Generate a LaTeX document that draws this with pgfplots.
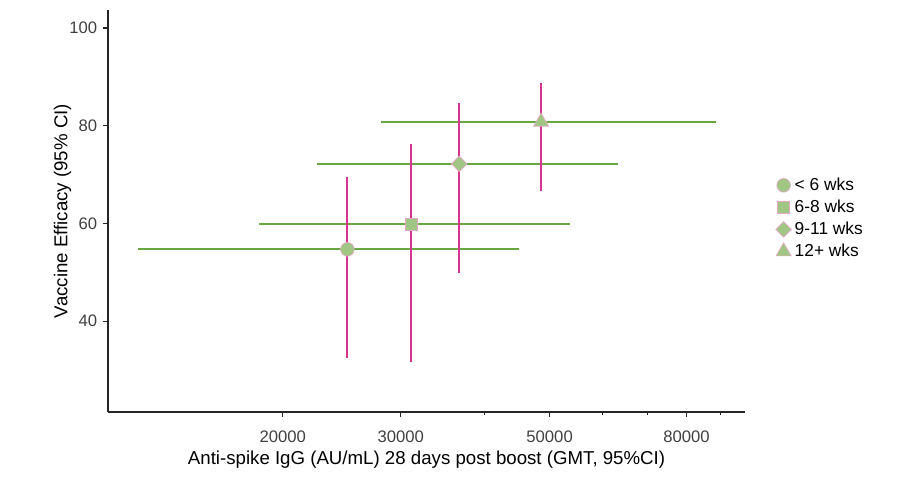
\documentclass[border=0pt]{standalone}
\usepackage{fontspec}
\setmainfont{Liberation Sans}
\usepackage{pgfplots}
\pgfplotsset{compat=1.18}

\definecolor{ciGreen}{RGB}{104,168,66}
\definecolor{ciPink}{RGB}{214,52,142}
\definecolor{ptFill}{RGB}{160,198,132}
\definecolor{ptEdge}{RGB}{232,168,204}

\begin{document}
\begin{tikzpicture}
% 1px = 0.6pt, page 920x477 px
\path[use as bounding box] (0pt,0pt) rectangle (552pt,286.2pt);
\begin{axis}[
    at={(64.8pt,39pt)}, anchor=south west,
    scale only axis, width=382.2pt, height=241.2pt,
    xmode=log, xmin=10980, xmax=97800,
    ymin=21.4, ymax=103.7,
    axis x line=bottom, axis y line=left,
    axis line style={-, black!85, line width=0.8pt},
    tick align=outside, tick style={black!85, line width=0.7pt},
    major tick length=3pt, minor tick length=2pt,
    xtick={20000,30000,50000,80000},
    xticklabels={20000,30000,50000,80000},
    minor xtick={40000,60000,70000,90000},
    ytick={40,60,80,100},
    /pgf/number format/assume math mode=true,
    ticklabel style={font=\fontsize{10}{12}\selectfont, text=black!75},
    xticklabel style={yshift=-4.5pt},
    xlabel={Anti-spike IgG (AU/mL) 28 days post boost (GMT, 95\%CI)},
    ylabel={Vaccine Efficacy (95\% CI)},
    label style={font=\fontsize{11.2}{13}\selectfont},
    xlabel style={yshift=1.5pt},
    ylabel style={yshift=-8pt},
    clip=false,
    legend style={at={(rel axis cs:1.04,0.6)}, anchor=north west, draw=none, fill=none,
        font=\fontsize{10.4}{12}\selectfont, row sep=0.2pt,
        /tikz/every even column/.append style={column sep=3pt}},
    legend cell align=left,
]
% points
\addplot[only marks, mark=*, mark size=4.1pt, mark options={fill=ptFill, draw=ptEdge, line width=0.4pt}]
    coordinates {(24970,54.7)};
\addlegendentry{< 6 wks}
\addplot[only marks, mark=square*, mark size=3.6pt, mark options={fill=ptFill, draw=ptEdge, line width=0.4pt}]
    coordinates {(31070,59.8)};
\addlegendentry{6-8 wks}
\addplot[only marks, mark=square*, mark size=3.3pt, mark options={rotate=45, fill=ptFill, draw=ptEdge, line width=0.4pt}]
    coordinates {(36670,72.2)};
\addlegendentry{9-11 wks}
\addplot[only marks, mark=triangle*, mark size=5.2pt, mark options={fill=ptFill, draw=ptEdge, line width=0.4pt}]
    coordinates {(48560,80.8)};
\addlegendentry{12+ wks}
% antibody 95% CI
\addplot[forget plot, draw=ciGreen, line width=1.2pt] coordinates {(12180,54.7) (45060,54.7)};
\addplot[forget plot, draw=ciGreen, line width=1.2pt] coordinates {(18460,59.8) (53680,59.8)};
\addplot[forget plot, draw=ciGreen, line width=1.2pt] coordinates {(22470,72.2) (63300,72.2)};
\addplot[forget plot, draw=ciGreen, line width=1.2pt] coordinates {(28000,80.8) (88640,80.8)};
% efficacy 95% CI
\addplot[forget plot, draw=ciPink, line width=1.2pt] coordinates {(24970,32.4) (24970,69.6)};
\addplot[forget plot, draw=ciPink, line width=1.2pt] coordinates {(31070,31.6) (31070,76.3)};
\addplot[forget plot, draw=ciPink, line width=1.2pt] coordinates {(36670,49.9) (36670,84.6)};
\addplot[forget plot, draw=ciPink, line width=1.2pt] coordinates {(48560,66.6) (48560,88.8)};
\end{axis}
\end{tikzpicture}
\end{document}
